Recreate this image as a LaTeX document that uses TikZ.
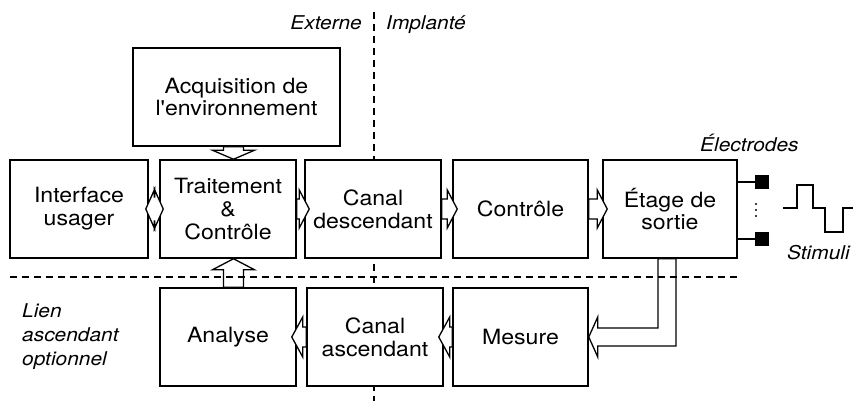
\documentclass[tikz,border=0pt]{standalone}
\usepackage{fontspec}
\setmainfont[FakeStretch=1.1, Ligatures=TeXOff]{TeX Gyre Heros}
\usetikzlibrary{calc}

\newcommand\boxfont{\fontsize{21}{22.8}\selectfont}
\newcommand\notefont{\fontsize{19}{24}\selectfont\itshape}

% rightward block arrow from the east side of #1 into the west side of #2
\newcommand\arrowright[2]{%
  \draw[blockarrow] let \p1=(#1.east), \p2=(#2.west) in
    (\x1,\y1+10pt) -- (\x2-5pt,\y1+10pt) -- (\x2-5pt,\y1+19pt) --
    (\x2+5pt,\y1) -- (\x2-5pt,\y1-19pt) -- (\x2-5pt,\y1-10pt) --
    (\x1,\y1-10pt) -- cycle;}
% leftward block arrow from the west side of #1 into the east side of #2
\newcommand\arrowleft[2]{%
  \draw[blockarrow] let \p1=(#1.west), \p2=(#2.east) in
    (\x1,\y1+10pt) -- (\x2+6pt,\y1+10pt) -- (\x2+6pt,\y1+20pt) --
    (\x2-5pt,\y1) -- (\x2+6pt,\y1-20pt) -- (\x2+6pt,\y1-10pt) --
    (\x1,\y1-10pt) -- cycle;}

\tikzset{
  box/.style={draw, fill=white, line width=1.5pt, align=center,
    inner sep=0pt, minimum height=98pt, font=\boxfont},
  blockarrow/.style={draw, fill=white, line width=1.3pt, line join=miter},
  sep/.style={line width=1.5pt, dash pattern=on 7pt off 5pt},
  note/.style={inner sep=0pt, font=\notefont},
  elec/.style={fill=black, draw=black, minimum size=13pt, inner sep=0pt},
  lead/.style={line width=1.5pt},
}

\begin{document}
\begin{tikzpicture}[x=1pt, y=-1pt]
\useasboundingbox (0,0) rectangle (855,401);

% boundary between the external and the implanted parts
\draw[sep] (374,12) -- (374,401);

% blocks
\node[box, minimum width=207pt] (acq) at (236.5,97) {Acquisition de\\l'environnement};
\node[box, minimum width=138pt] (iface) at (79,209) {Interface\\usager};
\node[box, minimum width=136pt] (trait) at (228,209) {Traitement\\\&\\Contrôle};
\node[box, minimum width=136pt] (cdesc) at (373,209) {Canal\\descendant};
\node[box, minimum width=135pt] (ctrl) at (520.5,209) {Contrôle};
\node[box, minimum width=134pt] (etage) at (670,209) {Étage de\\sortie};
\node[box, minimum width=136pt] (analyse) at (228,337) {Analyse};
\node[box, minimum width=136pt] (casc) at (375,337) {Canal\\ascendant};
\node[box, minimum width=135pt] (mesure) at (520.5,337) {Mesure};

% two-way link between user interface and processing
\draw[blockarrow] let \p1=(iface.east), \p2=(trait.west) in
  (\x1-3pt,\y1) -- (\x1+6pt,\y1+20pt) -- (\x1+6pt,\y1+12pt) --
  (\x2-5pt,\y1+12pt) -- (\x2-5pt,\y1+20pt) -- (\x2+4pt,\y1) --
  (\x2-5pt,\y1-20pt) -- (\x2-5pt,\y1-12pt) -- (\x1+6pt,\y1-12pt) --
  (\x1+6pt,\y1-20pt) -- cycle;

% downlink chain
\arrowright{trait}{cdesc}
\arrowright{cdesc}{ctrl}
\arrowright{ctrl}{etage}

% uplink chain
\arrowleft{mesure}{casc}
\arrowleft{casc}{analyse}

% environment acquisition into processing
\draw[blockarrow] let \p1=(acq.south), \p2=(trait.north) in
  (\x2-4.5pt,\y1) -- (\x2-4.5pt,\y2+9pt) -- (\x2-15.5pt,\y2+9pt) --
  (\x2+5.5pt,\y2) -- (\x2+26.5pt,\y2+9pt) -- (\x2+15.5pt,\y2+9pt) --
  (\x2+15.5pt,\y1) -- cycle;

% analysis back into processing
\draw[blockarrow] let \p1=(analyse.north), \p2=(trait.south) in
  (\x2-4.5pt,\y1) -- (\x2-4.5pt,\y2-11pt) -- (\x2-15.5pt,\y2-11pt) --
  (\x2+5.5pt,\y2) -- (\x2+26.5pt,\y2-11pt) -- (\x2+15.5pt,\y2-11pt) --
  (\x2+15.5pt,\y1) -- cycle;

% output stage into measurement
\draw[blockarrow] let \p1=(etage.south), \p2=(mesure.east) in
  (\x1-12pt,\y1) -- (\x1-12pt,\y2+9pt) -- (\x2+9pt,\y2+9pt) --
  (\x2+9pt,\y2+20pt) -- (\x2,\y2) -- (\x2+9pt,\y2-20pt) --
  (\x2+9pt,\y2-9pt) -- (\x1+6pt,\y2-9pt) -- (\x1+6pt,\y1) -- cycle;

% optional uplink boundary
\draw[sep] (10,277) -- (740,277);

% side labels
\node[note, anchor=base east] (ext) at (362,30) {Externe};
\node[note, anchor=base west] (impl) at (386,30) {Implanté};
\node[note, anchor=west, align=left] (lien) at (22,337) {Lien\\ascendant\\optionnel};

% electrodes
\node[elec] (e1) at (761.5,182) {};
\node[elec] (e2) at (761.5,239) {};
\draw[lead] (etage.east |- e1) -- (e1);
\draw[lead] (etage.east |- e2) -- (e2);
\foreach \yy in {204,210,216} \fill (756,\yy) circle (1.1pt);
\node[note, anchor=base west] (electr) at (700,152) {Électrodes};

% stimulation waveform
\draw[lead] (783,208) -| (797,185) -| (813,208) -| (825,232) -| (843,208) -- (853,208);
\node[note, anchor=base west] (stim) at (787,259) {Stimuli};
\end{tikzpicture}
\end{document}
